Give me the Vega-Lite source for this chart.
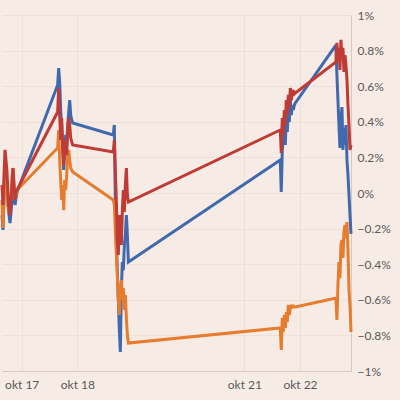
{
"$schema": "https://vega.github.io/schema/vega-lite/v6.json",
"width": 349, "height": 356,
"autosize": "none",
"padding": {"left": 2, "top": 15, "right": 49, "bottom": 29},
"background": "#f7ebe5",
"config": {"view": {"stroke": null}, "axis": {"labelFont": "Lato", "labelColor": "#5a5a5a", "labelFontSize": 12, "ticks": false, "domainColor": "#d8c8be", "gridColor": "#f0dfd4", "title": null}},
"data": {"values": [
{"t":"2019-10-16T15:30:00","serie1":-0.124,"serie2":-0.039,"serie3":0.045},
{"t":"2019-10-16T15:56:00","serie1":-0.208,"serie2":-0.197,"serie3":-0.067},
{"t":"2019-10-16T16:22:00","serie1":-0.039,"serie2":-0.011,"serie3":0.101},
{"t":"2019-10-16T16:48:00","serie1":0.185,"serie2":0.101,"serie3":0.242},
{"t":"2019-10-16T17:14:00","serie1":0.101,"serie2":0.045,"serie3":0.185},
{"t":"2019-10-16T17:40:00","serie1":0.045,"serie2":0.006,"serie3":0.118},
{"t":"2019-10-16T18:06:00","serie1":-0.067,"serie2":-0.067,"serie3":-0.011},
{"t":"2019-10-16T18:32:00","serie1":-0.124,"serie2":-0.107,"serie3":-0.096},
{"t":"2019-10-16T18:58:00","serie1":-0.169,"serie2":-0.084,"serie3":-0.124},
{"t":"2019-10-16T19:24:00","serie1":-0.107,"serie2":-0.011,"serie3":-0.039},
{"t":"2019-10-16T19:50:00","serie1":-0.039,"serie2":0.101,"serie3":0.045},
{"t":"2019-10-16T20:16:00","serie1":0.073,"serie2":0.140,"serie3":0.140},
{"t":"2019-10-16T20:42:00","serie1":-0.011,"serie2":0.017,"serie3":0.045},
{"t":"2019-10-16T21:08:00","serie1":-0.067,"serie2":-0.039,"serie3":-0.039},
{"t":"2019-10-16T21:34:00","serie1":-0.028,"serie2":-0.011,"serie3":0.017},
{"t":"2019-10-16T22:00:00","serie1":0.006,"serie2":0.017,"serie3":0.017},
{"t":"2019-10-17T15:30:00","serie1":0.607,"serie2":0.253,"serie3":0.455},
{"t":"2019-10-17T15:56:00","serie1":0.702,"serie2":0.354,"serie3":0.590},
{"t":"2019-10-17T16:22:00","serie1":0.624,"serie2":0.185,"serie3":0.438},
{"t":"2019-10-17T16:48:00","serie1":0.466,"serie2":0.073,"serie3":0.298},
{"t":"2019-10-17T17:14:00","serie1":0.382,"serie2":-0.039,"serie3":0.421},
{"t":"2019-10-17T17:40:00","serie1":0.270,"serie2":0.045,"serie3":0.242},
{"t":"2019-10-17T18:06:00","serie1":0.129,"serie2":-0.096,"serie3":0.157},
{"t":"2019-10-17T18:32:00","serie1":0.242,"serie2":0.073,"serie3":0.270},
{"t":"2019-10-17T18:58:00","serie1":0.326,"serie2":0.017,"serie3":0.298},
{"t":"2019-10-17T19:24:00","serie1":0.270,"serie2":0.101,"serie3":0.213},
{"t":"2019-10-17T19:50:00","serie1":0.382,"serie2":0.213,"serie3":0.354},
{"t":"2019-10-17T20:16:00","serie1":0.455,"serie2":0.242,"serie3":0.421},
{"t":"2019-10-17T20:42:00","serie1":0.522,"serie2":0.185,"serie3":0.382},
{"t":"2019-10-17T21:08:00","serie1":0.438,"serie2":0.140,"serie3":0.309},
{"t":"2019-10-17T21:34:00","serie1":0.410,"serie2":0.129,"serie3":0.287},
{"t":"2019-10-17T22:00:00","serie1":0.393,"serie2":0.118,"serie3":0.270},
{"t":"2019-10-18T15:30:00","serie1":0.326,"serie2":-0.039,"serie3":0.230},
{"t":"2019-10-18T15:56:00","serie1":0.382,"serie2":-0.067,"serie3":0.298},
{"t":"2019-10-18T16:22:00","serie1":-0.039,"serie2":-0.208,"serie3":0.129},
{"t":"2019-10-18T16:48:00","serie1":-0.264,"serie2":-0.348,"serie3":-0.039},
{"t":"2019-10-18T17:14:00","serie1":-0.433,"serie2":-0.461,"serie3":-0.264},
{"t":"2019-10-18T17:40:00","serie1":-0.601,"serie2":-0.601,"serie3":-0.348},
{"t":"2019-10-18T18:06:00","serie1":-0.770,"serie2":-0.685,"serie3":-0.124},
{"t":"2019-10-18T18:32:00","serie1":-0.893,"serie2":-0.545,"serie3":-0.219},
{"t":"2019-10-18T18:58:00","serie1":-0.545,"serie2":-0.489,"serie3":-0.292},
{"t":"2019-10-18T19:24:00","serie1":-0.388,"serie2":-0.601,"serie3":-0.096},
{"t":"2019-10-18T19:50:00","serie1":-0.433,"serie2":-0.534,"serie3":0.017},
{"t":"2019-10-18T20:16:00","serie1":-0.292,"serie2":-0.657,"serie3":-0.107},
{"t":"2019-10-18T20:42:00","serie1":-0.236,"serie2":-0.573,"serie3":0.045},
{"t":"2019-10-18T21:08:00","serie1":-0.124,"serie2":-0.702,"serie3":0.140},
{"t":"2019-10-18T21:34:00","serie1":-0.236,"serie2":-0.798,"serie3":-0.011},
{"t":"2019-10-18T22:00:00","serie1":-0.388,"serie2":-0.843,"serie3":-0.051},
{"t":"2019-10-21T15:30:00","serie1":0.185,"serie2":-0.758,"serie3":0.354},
{"t":"2019-10-21T15:56:00","serie1":0.006,"serie2":-0.882,"serie3":0.225},
{"t":"2019-10-21T16:22:00","serie1":0.242,"serie2":-0.702,"serie3":0.421},
{"t":"2019-10-21T16:48:00","serie1":0.298,"serie2":-0.781,"serie3":0.326},
{"t":"2019-10-21T17:14:00","serie1":0.365,"serie2":-0.685,"serie3":0.466},
{"t":"2019-10-21T17:40:00","serie1":0.270,"serie2":-0.758,"serie3":0.382},
{"t":"2019-10-21T18:06:00","serie1":0.421,"serie2":-0.669,"serie3":0.522},
{"t":"2019-10-21T18:32:00","serie1":0.343,"serie2":-0.725,"serie3":0.438},
{"t":"2019-10-21T18:58:00","serie1":0.455,"serie2":-0.629,"serie3":0.551},
{"t":"2019-10-21T19:24:00","serie1":0.399,"serie2":-0.685,"serie3":0.478},
{"t":"2019-10-21T19:50:00","serie1":0.522,"serie2":-0.646,"serie3":0.590},
{"t":"2019-10-21T20:16:00","serie1":0.438,"serie2":-0.635,"serie3":0.522},
{"t":"2019-10-21T20:42:00","serie1":0.494,"serie2":-0.640,"serie3":0.579},
{"t":"2019-10-21T21:08:00","serie1":0.466,"serie2":-0.635,"serie3":0.545},
{"t":"2019-10-21T21:34:00","serie1":0.494,"serie2":-0.640,"serie3":0.567},
{"t":"2019-10-21T22:00:00","serie1":0.506,"serie2":-0.640,"serie3":0.562},
{"t":"2019-10-22T15:30:00","serie1":0.831,"serie2":-0.590,"serie3":0.736},
{"t":"2019-10-22T15:56:00","serie1":0.663,"serie2":-0.713,"serie3":0.843},
{"t":"2019-10-22T16:22:00","serie1":0.522,"serie2":-0.517,"serie3":0.736},
{"t":"2019-10-22T16:48:00","serie1":0.382,"serie2":-0.388,"serie3":0.815},
{"t":"2019-10-22T17:14:00","serie1":0.253,"serie2":-0.478,"serie3":0.691},
{"t":"2019-10-22T17:40:00","serie1":0.410,"serie2":-0.292,"serie3":0.860},
{"t":"2019-10-22T18:06:00","serie1":0.483,"serie2":-0.264,"serie3":0.758},
{"t":"2019-10-22T18:32:00","serie1":0.242,"serie2":-0.365,"serie3":0.815},
{"t":"2019-10-22T18:58:00","serie1":0.365,"serie2":-0.219,"serie3":0.680},
{"t":"2019-10-22T19:24:00","serie1":0.270,"serie2":-0.180,"serie3":0.775},
{"t":"2019-10-22T19:50:00","serie1":0.382,"serie2":-0.253,"serie3":0.719},
{"t":"2019-10-22T20:16:00","serie1":0.185,"serie2":-0.163,"serie3":0.635},
{"t":"2019-10-22T20:42:00","serie1":0.101,"serie2":-0.320,"serie3":0.494},
{"t":"2019-10-22T21:08:00","serie1":-0.011,"serie2":-0.545,"serie3":0.382},
{"t":"2019-10-22T21:34:00","serie1":-0.124,"serie2":-0.629,"serie3":0.242},
{"t":"2019-10-22T22:00:00","serie1":-0.230,"serie2":-0.781,"serie3":0.270}
]},
"transform": [{"fold": ["serie1", "serie2", "serie3"], "as": ["serie", "pct"]}],
"mark": {"type": "line", "strokeWidth": 3, "strokeJoin": "miter", "strokeMiterLimit": 3},
"encoding": {
  "x": {"field": "t", "type": "temporal", "scale": {"nice": false},
        "axis": {"values": [{"year": 2019, "month": 10, "date": 17}, {"year": 2019, "month": 10, "date": 18}, {"year": 2019, "month": 10, "date": 21}, {"year": 2019, "month": 10, "date": 22}],
                 "labelExpr": "'okt ' + date(datum.value)", "grid": true, "labelPadding": 8, "labelFlush": false}},
  "y": {"field": "pct", "type": "quantitative", "scale": {"domain": [-1, 1], "nice": false},
        "axis": {"orient": "right", "values": [-1, -0.8, -0.6, -0.4, -0.2, 0, 0.2, 0.4, 0.6, 0.8, 1], "labelExpr": "format(datum.value, '~g') + '%'", "grid": true, "labelPadding": 6}},
  "color": {"field": "serie", "type": "nominal", "scale": {"domain": ["serie1", "serie2", "serie3"], "range": ["#4169ae", "#e57c2e", "#bf3b35"]}, "legend": null}
}
}
